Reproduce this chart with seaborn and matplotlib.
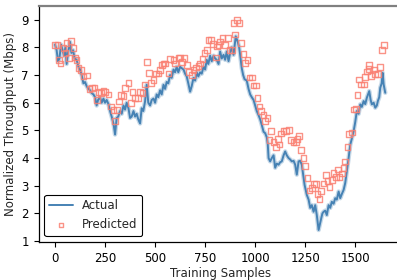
import matplotlib
matplotlib.use("Agg")
import matplotlib.pyplot as plt
import seaborn as sns

# Actual throughput
actual_x = [0, 8, 15, 22, 30, 38, 45, 52, 58, 65, 75, 82, 90, 98, 108, 117, 125, 133, 142, 150,
            158, 167, 175, 183, 192, 200, 208, 215, 225, 233, 242, 250, 258, 267, 275, 283, 292, 300, 308, 316,
            325, 333, 342, 350, 358, 367, 375, 383, 392, 400, 408, 416, 425, 433, 441, 450, 458, 466, 475, 483,
            492, 500, 508, 516, 525, 533, 542, 550, 558, 566, 575, 583, 592, 600, 608, 616, 625, 633, 642, 650,
            658, 666, 675, 683, 692, 700, 708, 716, 725, 733, 742, 750, 758, 766, 775, 783, 792, 800, 808, 817,
            825, 833, 842, 850, 858, 867, 875, 883, 892, 903, 913, 920, 925, 933, 940, 947, 958, 967, 975, 983,
            992, 1000, 1008, 1017, 1025, 1033, 1042, 1050, 1058, 1063, 1067, 1075, 1083, 1092, 1100, 1108, 1117, 1125, 1133, 1142,
            1150, 1158, 1167, 1175, 1183, 1192, 1200, 1208, 1217, 1225, 1233, 1240, 1247, 1258, 1267, 1275, 1283, 1292, 1300, 1308,
            1317, 1323, 1330, 1336, 1342, 1350, 1358, 1367, 1375, 1383, 1392, 1400, 1408, 1417, 1425, 1433, 1442, 1450, 1458, 1467,
            1475, 1483, 1492, 1500, 1508, 1517, 1525, 1533, 1542, 1550, 1558, 1570, 1577, 1583, 1592, 1600, 1608, 1613, 1620, 1625,
            1632, 1637, 1642, 1646, 1650]
actual_y = [8.1, 7.9, 7.5, 7.6, 8.1, 7.9, 7.7, 8.0, 7.4, 7.8, 8.2, 7.8, 7.9, 7.6, 7.55, 7.3, 7.2, 7.0, 6.7, 6.75,
            6.6, 6.5, 6.45, 6.35, 6.3, 6.2, 5.9, 6.1, 6.2, 6.0, 6.15, 6.0, 6.1, 5.95, 5.7, 5.5, 5.25, 4.85, 5.45, 5.5,
            5.7, 5.6, 5.9, 5.75, 6.0, 5.8, 5.45, 5.5, 5.7, 5.5, 5.6, 5.4, 5.25, 5.8, 5.7, 6.05, 6.65, 6.0, 5.9, 6.1,
            6.15, 6.0, 6.3, 6.2, 6.45, 6.3, 6.65, 6.5, 6.75, 6.7, 7.0, 6.9, 7.2, 7.1, 7.3, 7.1, 7.3, 7.25, 7.2, 7.05,
            6.95, 6.7, 6.4, 6.6, 6.9, 6.8, 7.1, 6.95, 7.1, 7.05, 7.3, 7.2, 7.55, 7.4, 7.7, 7.5, 7.7, 7.6, 7.55, 7.4,
            7.85, 7.6, 7.73, 7.55, 7.85, 7.5, 7.8, 8.0, 7.73, 8.4, 8.2, 8.0, 7.73, 7.25, 7.0, 6.85, 6.8, 6.5, 6.3, 6.2,
            6.1, 5.9, 5.7, 5.55, 5.4, 5.2, 4.95, 4.9, 4.75, 4.5, 4.0, 3.88, 4.0, 4.1, 3.65, 3.8, 3.76, 3.85, 3.88, 4.1,
            4.24, 4.1, 4.0, 3.95, 3.88, 3.9, 3.76, 3.4, 3.88, 3.9, 3.76, 3.4, 3.03, 2.67, 2.5, 2.2, 2.3, 2.06, 2.3, 1.94,
            1.4, 1.6, 1.82, 2.0, 2.06, 2.1, 1.94, 2.3, 2.2, 2.42, 2.35, 2.55, 2.5, 2.79, 2.55, 2.7, 2.85, 3.1, 3.52, 4.0,
            4.48, 4.7, 4.97, 5.3, 5.7, 5.6, 5.94, 5.85, 6.06, 5.95, 6.18, 6.42, 6.1, 5.94, 6.0, 5.82, 5.9, 6.06, 6.2, 6.54,
            6.7, 7.08, 6.66, 6.5, 6.36]

# Predicted throughput markers
pred_x = [0, 12, 20, 28, 42, 53, 58, 70, 80, 92, 100, 108, 117, 128, 142, 158, 172, 183, 197, 208,
          217, 230, 242, 250, 267, 280, 292, 300, 308, 320, 330, 342, 350, 367, 380, 387, 400, 413, 425, 437,
          450, 458, 470, 480, 492, 505, 517, 525, 533, 542, 550, 567, 575, 592, 600, 617, 625, 633, 647, 658,
          670, 683, 692, 703, 717, 725, 737, 747, 758, 767, 778, 788, 803, 808, 817, 825, 837, 850, 863, 872,
          883, 892, 900, 908, 922, 930, 942, 950, 962, 972, 983, 992, 1003, 1012, 1022, 1030, 1042, 1050, 1062, 1072,
          1080, 1092, 1103, 1113, 1122, 1130, 1142, 1153, 1170, 1180, 1192, 1203, 1212, 1220, 1230, 1242, 1250, 1262, 1272, 1283,
          1295, 1303, 1312, 1322, 1330, 1342, 1353, 1362, 1372, 1383, 1392, 1403, 1413, 1422, 1433, 1442, 1450, 1462, 1470, 1483,
          1495, 1505, 1512, 1520, 1530, 1542, 1547, 1558, 1567, 1570, 1580, 1592, 1600, 1612, 1622, 1635, 1642]
pred_y = [8.09, 8.09, 7.55, 7.42, 7.99, 7.79, 8.15, 7.61, 8.24, 7.99, 7.63, 7.55, 7.25, 7.19, 6.95, 6.98, 6.5, 6.52, 6.55, 6.1,
          6.38, 6.34, 6.43, 6.4, 6.3, 5.86, 5.74, 5.34, 5.74, 6.04, 6.28, 6.25, 6.54, 6.7, 5.98, 6.4, 6.16, 6.16, 6.38, 6.34,
          6.66, 7.48, 7.08, 6.7, 6.82, 7.06, 7.06, 7.18, 7.36, 7.42, 7.42, 7.06, 7.58, 7.55, 7.42, 7.61, 7.63, 7.46, 7.61, 7.36,
          7.12, 7.0, 7.18, 7.27, 7.34, 7.42, 7.58, 7.79, 7.91, 8.27, 8.27, 8.11, 7.63, 8.03, 8.09, 8.21, 8.33, 8.09, 8.33, 7.91,
          7.91, 8.87, 8.47, 9.0, 8.87, 8.15, 7.75, 7.43, 7.55, 6.91, 6.91, 6.62, 6.62, 6.16, 5.86, 5.7, 5.56, 5.34, 5.46, 4.65,
          4.98, 4.59, 4.41, 4.69, 4.49, 4.89, 4.98, 4.98, 5.01, 4.65, 4.57, 4.57, 4.69, 4.8, 4.28, 4.0, 3.71, 3.29, 2.83, 2.93,
          3.05, 3.05, 2.71, 2.53, 2.8, 3.08, 3.4, 3.16, 2.95, 3.2, 3.47, 3.31, 3.59, 3.31, 3.44, 3.64, 3.88, 4.4, 4.88, 4.92,
          5.76, 5.78, 6.27, 6.84, 6.66, 6.66, 6.93, 7.13, 7.23, 7.37, 6.96, 7.2, 7.05, 7.05, 7.29, 7.9, 8.09]

sns.set_style("ticks")
plt.rcParams["font.family"] = ["DejaVu Sans"]
plt.rcParams["font.size"] = 8.5

fig = plt.figure(figsize=(3.97, 2.8), dpi=100)
ax = fig.add_axes([0.097, 0.136, 0.915, 0.843])

# light halo under the actual curve
sns.lineplot(x=actual_x, y=actual_y, ax=ax, color="#4682b4", linewidth=3.2, alpha=0.3)
sns.lineplot(x=actual_x, y=actual_y, ax=ax, color="#4682b4", linewidth=1.4, label="Actual")
sns.scatterplot(x=pred_x, y=pred_y, ax=ax, marker="s", s=17, facecolors="none",
                edgecolor="salmon", linewidth=1.0, alpha=0.85, label="Predicted", zorder=3)

ax.set_xlim(-82.5, 1732.5)
ax.set_ylim(0.97, 9.5)
ax.set_xticks([0, 250, 500, 750, 1000, 1250, 1500])
ax.set_yticks(range(1, 10))
ax.set_xlabel("Training Samples", fontsize=8.5, labelpad=2)
ax.set_ylabel("Normalized Throughput (Mbps)", fontsize=8.5, labelpad=3)
ax.tick_params(labelsize=8.5, length=3.5, width=0.8, colors="black")
for sp in ax.spines.values():
    sp.set_color("black")
    sp.set_linewidth(0.9)
ax.spines["top"].set_color("0.5")
ax.spines["top"].set_linewidth(1.6)

leg = ax.legend(loc="lower left", fontsize=8.5, frameon=True, fancybox=True,
                framealpha=1, markerscale=0.7)
leg.get_frame().set_edgecolor("black")
leg.get_frame().set_linewidth(0.8)

fig.savefig("out.png", dpi=100)
